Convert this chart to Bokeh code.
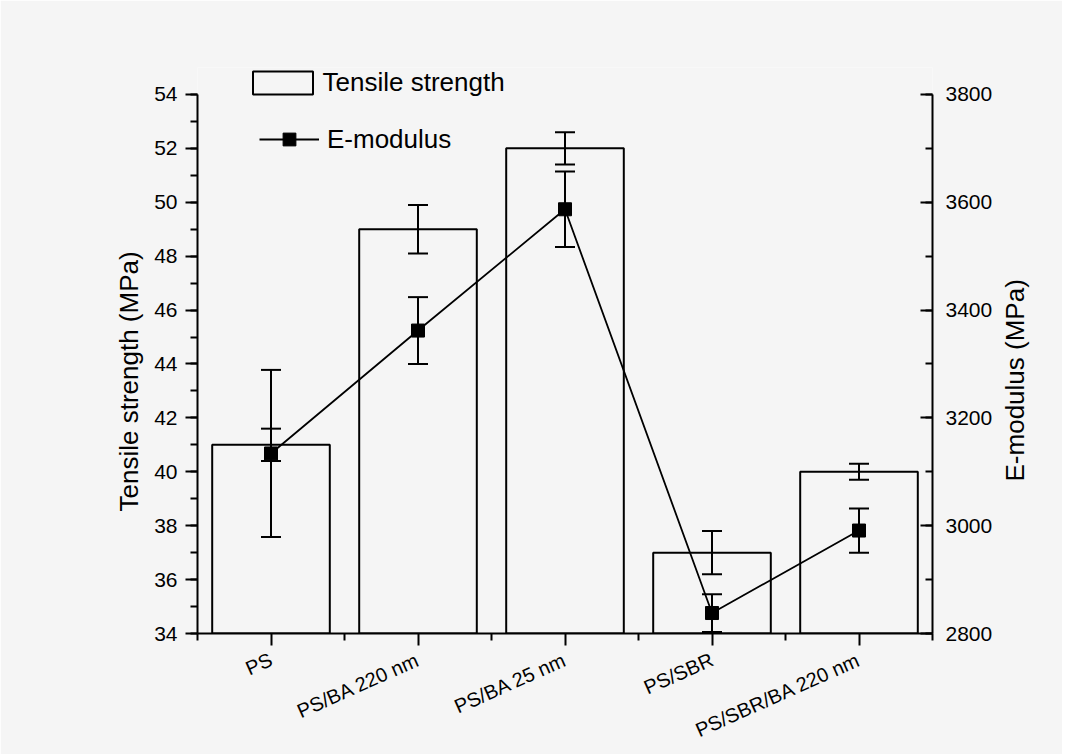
import math
from bokeh.plotting import figure
from bokeh.models import (Range1d, LinearAxis, FixedTicker, SingleIntervalTicker,
                          Whisker, TeeHead, ColumnDataSource, Legend, LegendItem, Title)
from bokeh.embed import file_html
from bokeh.resources import INLINE

# ---- data ----
categories = ["PS", "PS/BA 220 nm", "PS/BA 25 nm", "PS/SBR", "PS/SBR/BA 220 nm"]
tensile = [41.0, 49.0, 52.0, 37.0, 40.0]
tensile_err = [0.6, 0.9, 0.6, 0.8, 0.3]
modulus = [3134, 3362, 3587, 2838, 2991]
modulus_err = [155, 62, 70, 35, 41]

FONT = "Liberation Sans"
BG = "#f5f5f5"

xs = list(range(1, len(categories) + 1))
src = ColumnDataSource(dict(
    x=xs, cat=categories,
    t=tensile, t_up=[v + e for v, e in zip(tensile, tensile_err)],
    t_lo=[v - e for v, e in zip(tensile, tensile_err)],
    m=modulus, m_up=[v + e for v, e in zip(modulus, modulus_err)],
    m_lo=[v - e for v, e in zip(modulus, modulus_err)],
))

# axis ranges (a little head-room above the axes for the legend)
T_MIN, T_MAX = 34, 54
M_MIN, M_MAX = 2800, 3800
HEAD = 1.0  # extra tensile units above axis top
M_HEAD = HEAD * (M_MAX - M_MIN) / (T_MAX - T_MIN)

p = figure(frame_width=735, frame_height=566,
           x_range=Range1d(0.5, len(categories) + 0.5),
           y_range=Range1d(T_MIN, T_MAX + HEAD),
           output_backend="svg", toolbar_location=None,
           min_border_left=197, min_border_right=130, min_border_top=67, min_border_bottom=100,
           background_fill_color=BG, border_fill_color=BG, outline_line_color=None)
p.xgrid.visible = False
p.ygrid.visible = False
p.extra_y_ranges = {"mod": Range1d(M_MIN, M_MAX + M_HEAD)}

# bars
bars = p.vbar(x="x", top="t", bottom=T_MIN, width=0.8, source=src,
              fill_alpha=0, line_color="black", line_width=2)
p.add_layout(Whisker(source=src, base="x", upper="t_up", lower="t_lo", dimension="height",
                     line_color="black", line_width=2,
                     upper_head=TeeHead(size=20, line_width=2, line_color="black"),
                     lower_head=TeeHead(size=20, line_width=2, line_color="black")))

# modulus line
ln = p.line(x="x", y="m", source=src, y_range_name="mod", line_color="black", line_width=1.8)
sc = p.scatter(x="x", y="m", source=src, y_range_name="mod", marker="square", size=13,
               fill_color="black", line_color="black")
p.add_layout(Whisker(source=src, base="x", upper="m_up", lower="m_lo", dimension="height",
                     y_range_name="mod", line_color="black", line_width=2,
                     upper_head=TeeHead(size=20, line_width=2, line_color="black"),
                     lower_head=TeeHead(size=20, line_width=2, line_color="black")))

# axes
xa = p.xaxis[0]
xa.ticker = FixedTicker(ticks=xs, minor_ticks=[x - 0.5 for x in xs] + [xs[-1] + 0.5])
xa.major_label_overrides = {x: c for x, c in zip(xs, categories)}
xa.major_label_orientation = 0.42
xa.major_label_text_font = FONT
xa.major_label_text_font_size = "20px"
xa.major_label_text_color = "black"
xa.major_label_standoff = 13
xa.axis_line_width = 2
xa.major_tick_line_width = 2
xa.minor_tick_line_width = 2
xa.major_tick_out = 12
xa.major_tick_in = 0
xa.minor_tick_out = 7
xa.minor_tick_in = 0

ya = p.yaxis[0]
ya.ticker = SingleIntervalTicker(interval=2, num_minor_ticks=2)
ya.bounds = (T_MIN, T_MAX)
ya.major_label_text_font = FONT
ya.major_label_text_font_size = "21px"
ya.major_label_text_color = "black"
ya.major_label_standoff = 8
ya.axis_line_width = 2
ya.major_tick_line_width = 2
ya.minor_tick_line_width = 2
ya.major_tick_out = 12
ya.major_tick_in = 0
ya.minor_tick_out = 7
ya.minor_tick_in = 0

ra = LinearAxis(y_range_name="mod", ticker=SingleIntervalTicker(interval=200, num_minor_ticks=2))
ra.bounds = (M_MIN, M_MAX)
ra.major_label_text_font = FONT
ra.major_label_text_font_size = "21px"
ra.major_label_text_color = "black"
ra.major_label_standoff = 13
ra.axis_line_width = 2
ra.major_tick_line_width = 2
ra.minor_tick_line_width = 2
ra.major_tick_in = 12
ra.major_tick_out = 0
ra.minor_tick_in = 7
ra.minor_tick_out = 0
p.add_layout(ra, "right")

# right axis title: drawn as the single label of an invisible outer axis,
# reading bottom-to-top and starting just below the axis middle
TITLE_START = 3082  # position (in modulus units) where the title text begins
title_axis = LinearAxis(y_range_name="mod",
                        ticker=FixedTicker(ticks=[TITLE_START], minor_ticks=[]),
                        major_label_overrides={TITLE_START: "E-modulus (MPa)"},
                        major_label_orientation=math.pi / 2,
                        major_label_standoff=14,
                        major_label_text_font=FONT, major_label_text_font_size="26px",
                        major_label_text_color="black",
                        axis_line_color=None, major_tick_line_color=None,
                        minor_tick_line_color=None)
p.add_layout(title_axis, "right")

# left axis title as a side title (so it can be centred on the drawn axis)
p.add_layout(Title(text="Tensile strength (MPa)", align="left", offset=122, standoff=15,
                   text_font=FONT, text_font_size="26px", text_font_style="normal",
                   text_color="black"), "left")

# legends
leg1 = Legend(items=[LegendItem(label="Tensile strength", renderers=[bars])],
              location=(47.5, 535.5), glyph_width=75, glyph_height=29, label_height=29,
              label_standoff=3, padding=0, margin=0, spacing=0,
              border_line_alpha=0, background_fill_alpha=0,
              label_text_font=FONT, label_text_font_size="26px", label_text_color="black")
leg2 = Legend(items=[LegendItem(label="E-modulus", renderers=[ln, sc])],
              location=(62, 478), glyph_width=60, glyph_height=32, label_height=32,
              label_standoff=8, padding=0, margin=0, spacing=0,
              border_line_alpha=0, background_fill_alpha=0,
              label_text_font=FONT, label_text_font_size="26px", label_text_color="black")
p.add_layout(leg1)
p.add_layout(leg2)

open("out.html", "w").write(file_html(p, INLINE))
